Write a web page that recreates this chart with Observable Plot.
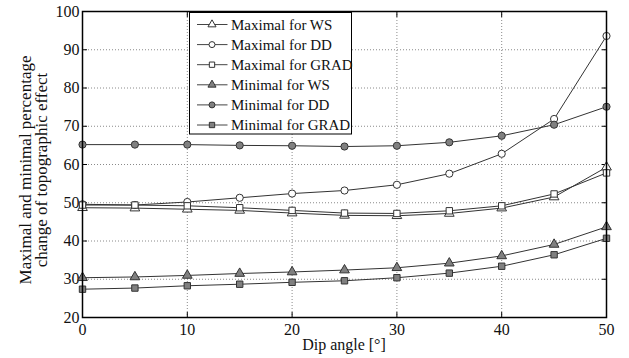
<!DOCTYPE html>
<html><head><meta charset="utf-8">
<script src="https://cdn.jsdelivr.net/npm/d3@7"></script>
<script src="https://cdn.jsdelivr.net/npm/@observablehq/plot@0.6"></script>
<style>
body{margin:0;background:#fff}
#chart{position:relative;width:629px;height:358px}
</style>
</head><body><div id="chart"></div>
<script>
const dipAngles = [0,5,10,15,20,25,30,35,40,45,50];
const maxWS   = [48.7,48.6,48.3,48.0,47.3,46.7,46.6,47.2,48.6,51.5,59.3];
const maxDD   = [49.6,49.4,50.2,51.3,52.4,53.2,54.7,57.6,62.8,71.9,93.6];
const maxGRAD = [49.4,49.4,49.2,48.7,48.0,47.3,47.2,47.9,49.2,52.3,57.8];
const minWS   = [30.4,30.6,31.0,31.5,31.9,32.4,33.0,34.2,36.1,39.1,43.7];
const minDD   = [65.2,65.2,65.2,65.0,64.9,64.7,64.9,65.8,67.5,70.4,75.1];
const minGRAD = [27.4,27.7,28.3,28.7,29.2,29.6,30.4,31.6,33.4,36.4,40.7];
const seriesNames = ["Maximal for WS","Maximal for DD","Maximal for GRAD","Minimal for WS","Minimal for DD","Minimal for GRAD"];
const seriesValues = [maxWS, maxDD, maxGRAD, minWS, minDD, minGRAD];
const seriesSymbols = ["triangle","circle","square","triangle","circle","square"];
const seriesFills = ["white","white","white","#808080","#808080","#808080"];
const xTicks = [0,10,20,30,40,50];
const yTicks = [20,30,40,50,60,70,80,90,100];
const xTitle = "Dip angle [°]";
const yTitle = ["Maximal and minimal percentage","change of topographic effect"];

const FONT = "Liberation Serif, Times New Roman, serif";
const series = seriesNames.map((name, i) => ({
  name, symbol: seriesSymbols[i], fill: seriesFills[i],
  data: dipAngles.map((x, j) => ({x, y: seriesValues[i][j], series: name}))
}));

const gridStyle = {stroke: "#8a8a8a", strokeOpacity: 1, strokeDasharray: "1,2", strokeWidth: 1};
const marks = [
  Plot.gridX(xTicks, gridStyle),
  Plot.gridY(yTicks, gridStyle),
  Plot.axisX(xTicks, {anchor: "bottom", tickSize: 0, tickPadding: 6, label: null, fontSize: 16}),
  Plot.axisY(yTicks, {anchor: "left", tickSize: 0, tickPadding: 3, label: null, fontSize: 16}),
  Plot.axisX(xTicks, {anchor: "bottom", tickSize: -5, text: null, label: null, stroke: "black"}),
  Plot.axisX(xTicks, {anchor: "top", tickSize: -5, text: null, label: null, stroke: "black"}),
  Plot.axisY(yTicks, {anchor: "left", tickSize: -5, text: null, label: null, stroke: "black"}),
  Plot.axisY(yTicks, {anchor: "right", tickSize: -5, text: null, label: null, stroke: "black"}),
];
for (const s of series) {
  marks.push(Plot.line(s.data, {x: "x", y: "y", stroke: "#333", strokeWidth: 1}));
}
for (const s of series) {
  marks.push(Plot.dot(s.data, {x: "x", y: "y", symbol: s.symbol, fill: s.fill, stroke: "#333", strokeWidth: 1, r: 3.6}));
}
marks.push(Plot.frame({stroke: "black", strokeWidth: 1.5}));

const chart = Plot.plot({
  width: 629, height: 358,
  marginLeft: 82, marginRight: 23, marginTop: 11, marginBottom: 41,
  style: {fontFamily: FONT, fontSize: "16px", color: "#111", background: "white"},
  x: {domain: [0, 50]},
  y: {domain: [20, 100]},
  marks
});
document.getElementById("chart").appendChild(chart);

const svg = d3.select(chart);
const xs = chart.scale("x");
const cx = (xs.apply(0) + xs.apply(50)) / 2;
svg.append("text").attr("x", cx).attr("y", 350).attr("text-anchor", "middle")
  .attr("font-family", FONT).attr("font-size", 16).attr("fill", "#111").text(xTitle);
yTitle.forEach((t, i) => {
  svg.append("text").attr("transform", `translate(${31 + i * 16},170) rotate(-90)`)
    .attr("text-anchor", "middle").attr("font-family", FONT).attr("font-size", 17)
    .attr("fill", "#111").text(t);
});

// legend
const lg = svg.append("g");
lg.append("rect").attr("x", 189.5).attr("y", 12.5).attr("width", 162).attr("height", 121.5)
  .attr("fill", "white").attr("stroke", "black").attr("stroke-width", 1);
const symMap = {triangle: d3.symbolTriangle, circle: d3.symbolCircle, square: d3.symbolSquare};
series.forEach((s, i) => {
  const y = 24.5 + i * 20.1;
  lg.append("line").attr("x1", 197).attr("x2", 227.5).attr("y1", y).attr("y2", y)
    .attr("stroke", "#444").attr("stroke-width", 1);
  lg.append("path").attr("d", d3.symbol(symMap[s.symbol], Math.PI * 3 * 3)())
    .attr("transform", `translate(212,${y})`).attr("fill", s.fill).attr("stroke", "#333");
  lg.append("text").attr("x", 231).attr("y", y).attr("dy", "0.35em").attr("text-anchor", "start")
    .attr("font-family", FONT).attr("font-size", 15).attr("fill", "#111").text(s.name);
});
</script>
</body></html>
